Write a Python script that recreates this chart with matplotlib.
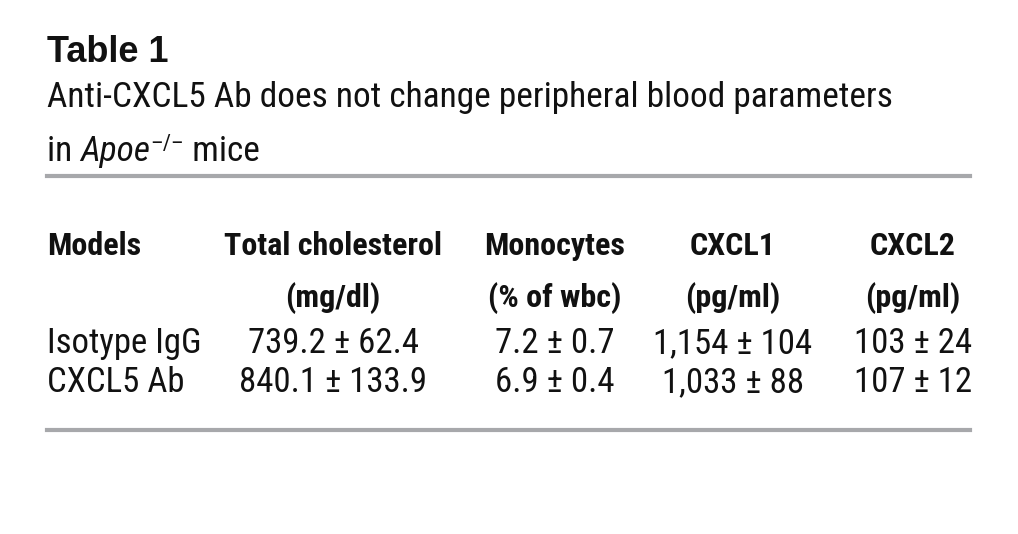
import matplotlib
matplotlib.use('Agg')
from matplotlib import pyplot as plt
from matplotlib.lines import Line2D

# table content
title = 'Table 1'
subtitle1 = 'Anti-CXCL5 Ab does not change peripheral blood parameters'
subtitle2 = ['in ', 'Apoe', '\u2013/\u2013', ' mice']
headers1 = ['Models', 'Total cholesterol', 'Monocytes', 'CXCL1', 'CXCL2']
headers2 = ['', '(mg/dl)', '(% of wbc)', '(pg/ml)', '(pg/ml)']
models = ['Isotype IgG', 'CXCL5 Ab']
cholesterol = ['739.2 \u00b1 62.4', '840.1 \u00b1 133.9']
monocytes = ['7.2 \u00b1 0.7', '6.9 \u00b1 0.4']
cxcl1 = ['1,154 \u00b1 104', '1,033 \u00b1 88']
cxcl2 = ['103 \u00b1 24', '107 \u00b1 12']

W, H = 1018, 534
fig = plt.figure(figsize=(W / 100, H / 100), dpi=100)
fig.patch.set_facecolor('white')

NARROW = ['Roboto Condensed', 'DejaVu Sans']
INK = '#111111'
RULE = '#a7a8ab'


def fx(x):
    return x / W


def fy(y):
    return 1 - y / H


def put(x, y, s, ha='left', **kw):
    return fig.text(fx(x), fy(y), s, ha=ha, va='baseline', color=INK, **kw)


def rule(y, x0=47, x1=970):
    fig.add_artist(Line2D([fx(x0), fx(x1)], [fy(y), fy(y)], color=RULE, lw=3.0,
                          transform=fig.transFigure))


# title block
put(47, 62, title, fontsize=26, fontweight='bold', family=['Liberation Sans', 'DejaVu Sans'])
put(47, 107, subtitle1, fontsize=25.5, family=NARROW)

renderer = fig.canvas.get_renderer()
x = 47
styles = [dict(fontsize=25.5), dict(fontsize=25.5, style='italic'),
          dict(fontsize=16), dict(fontsize=25.5)]
offs = [0, 0, -11, 0]
for piece, st, dy in zip(subtitle2, styles, offs):
    t = put(x, 161 + dy, piece, family=NARROW, **st)
    bb = t.get_window_extent(renderer)
    x += bb.width

rule(176)

# header
col_x = [47, 333, 555, 733, 913]
for i, (h1, h2) in enumerate(zip(headers1, headers2)):
    ha = 'left' if i == 0 else 'center'
    put(col_x[i], 255, h1, ha=ha, fontsize=23, fontweight='bold', family=NARROW)
    if h2:
        put(col_x[i], 307, h2, ha=ha, fontsize=23, fontweight='bold', family=NARROW)

# body rows
row_y = [353, 392]
for r in range(len(models)):
    cells = [models[r], cholesterol[r], monocytes[r], cxcl1[r], cxcl2[r]]
    for i, c in enumerate(cells):
        ha = 'left' if i == 0 else 'center'
        put(col_x[i], row_y[r], c, ha=ha, fontsize=25, family=NARROW)

rule(430)

fig.savefig('out.png', dpi=100, facecolor='white')
